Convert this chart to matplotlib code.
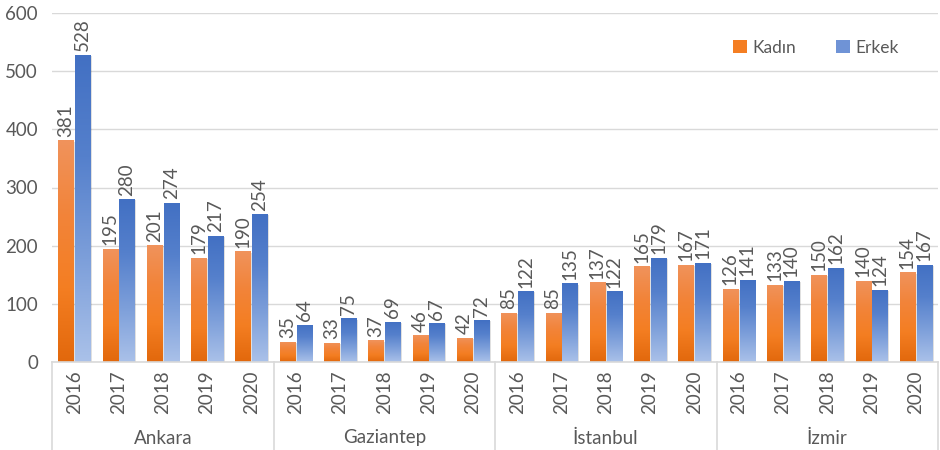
import matplotlib
matplotlib.use('Agg')
import matplotlib.pyplot as plt
import numpy as np
from matplotlib.colors import LinearSegmentedColormap
from matplotlib.patches import Patch
from matplotlib.lines import Line2D
import matplotlib.transforms as mtransforms

plt.rcParams['font.family'] = ['Lato', 'DejaVu Sans']

cities = ['Ankara', 'Gaziantep', 'İstanbul', 'İzmir']
years = ['2016', '2017', '2018', '2019', '2020']
kadin = [381, 195, 201, 179, 190,
         35, 33, 37, 46, 42,
         85, 85, 137, 165, 167,
         126, 133, 150, 140, 154]
erkek = [528, 280, 274, 217, 254,
         64, 75, 69, 67, 72,
         122, 135, 122, 179, 171,
         141, 140, 162, 124, 167]

TXT = '#595959'
GRID = '#D9D9D9'
FS = 13.5

# gradients go bottom -> top
cmap_k = LinearSegmentedColormap.from_list('k', ['#E2680C', '#F47E22', '#F2843A', '#F0935C'])
cmap_e = LinearSegmentedColormap.from_list('e', ['#AAC1E9', '#7D9FDA', '#5580CC', '#4270C3'])

fig = plt.figure(figsize=(9.4, 4.5), dpi=100)
ax = fig.add_axes([52 / 940, 1 - 362 / 450, 886 / 940, 349 / 450])

n = len(kadin)
x = np.arange(n)
w = 0.34
off = 0.19
grad = np.linspace(0, 1, 256).reshape(-1, 1)

for vals, sign, cmap in [(kadin, -1, cmap_k), (erkek, 1, cmap_e)]:
    bars = ax.bar(x + sign * off, vals, width=w, color='none', zorder=3)
    for b, v in zip(bars, vals):
        x0 = b.get_x()
        # soft shadow
        ax.bar(x0 + w / 2 + 0.04, v, width=w, bottom=-2, color='#000000', alpha=0.12, zorder=2)
        im = ax.imshow(grad, extent=[x0, x0 + w, 0, v], origin='lower', aspect='auto',
                       cmap=cmap, zorder=3, interpolation='bilinear')
        im.set_clip_path(b)
        ax.text(x0 + w / 2, v + 6, str(v), rotation=90, ha='center', va='bottom',
                fontsize=FS, color=TXT, zorder=4)

ax.set_xlim(-0.5, n - 0.5)
ax.set_ylim(0, 600)
ax.set_yticks(range(0, 601, 100))
ax.grid(axis='y', color=GRID, linewidth=1)
ax.set_axisbelow(True)
for s in ['top', 'right', 'left']:
    ax.spines[s].set_visible(False)
ax.spines['bottom'].set_color(GRID)
ax.spines['bottom'].set_linewidth(1.2)
ax.spines['bottom'].set_zorder(5)

ax.set_xticks(x)
ax.set_xticklabels(years * len(cities), rotation=90)
ax.tick_params(axis='x', length=0, pad=6, labelsize=FS, labelcolor=TXT)
ax.tick_params(axis='y', length=0, pad=10, labelsize=FS, labelcolor=TXT)

trans = mtransforms.blended_transform_factory(ax.transData, fig.transFigure)
for k in range(len(cities) + 1):
    xs = k * len(years) - 0.5
    fig.add_artist(Line2D([xs, xs], [0, 1 - 362 / 450], transform=trans, color=GRID, linewidth=1.2))
for k, c in enumerate(cities):
    fig.text(k * len(years) + 2, 1 - 438 / 450, c, transform=trans, ha='center', va='center',
             fontsize=FS, color=TXT)

handles = [Patch(facecolor='#F47E22', label='Kadın'), Patch(facecolor='#6F93D6', label='Erkek')]
ax.legend(handles=handles, loc='upper right', bbox_to_anchor=(0.973, 0.968), ncol=2, frameon=False,
          fontsize=12.5, labelcolor=TXT, handlelength=0.8, handleheight=0.8, handletextpad=0.3,
          columnspacing=2.3)

fig.savefig('out.png', dpi=100)
